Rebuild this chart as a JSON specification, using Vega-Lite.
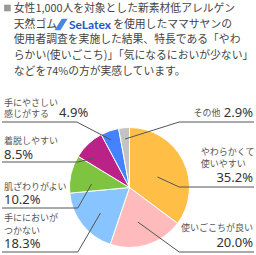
{
  "$schema": "https://vega.github.io/schema/vega-lite/v6.json",
  "width": 256,
  "height": 255,
  "padding": 0,
  "autosize": {"type": "fit", "contains": "padding"},
  "background": "white",
  "config": {"view": {"stroke": null}, "text": {"font": "Noto Sans CJK JP"}},
  "datasets": {
    "pie": [
      {"k": "やわらかくて使いやすい", "v": 35.2, "o": 1},
      {"k": "使いごこちが良い", "v": 20.0, "o": 2},
      {"k": "手ににおいがつかない", "v": 18.3, "o": 3},
      {"k": "肌ざわりがよい", "v": 10.2, "o": 4},
      {"k": "着脱しやすい", "v": 8.5, "o": 5},
      {"k": "手にやさしい感じがする", "v": 4.9, "o": 6},
      {"k": "その他", "v": 2.9, "o": 7}
    ],
    "title": [
      {"t": "女性1,000人を対象とした新素材低アレルゲン", "x": 12, "y": 8.5},
      {"t": "天然ゴム", "x": 12, "y": 24.5},
      {"t": "を使用したママサヤンの", "x": 113, "y": 24.5},
      {"t": "使用者調査を実施した結果、特長である「やわ", "x": 12, "y": 40},
      {"t": "らかい(使いごこち)」「気になるにおいが少ない」", "x": 12, "y": 56},
      {"t": "などを74%の方が実感しています。", "x": 12, "y": 72}
    ],
    "labL": [
      {"t": "手にやさしい", "x": 2, "y": 103},
      {"t": "感じがする", "x": 2, "y": 114},
      {"t": "着脱しやすい", "x": 2, "y": 141},
      {"t": "肌ざわりがよい", "x": 2, "y": 187},
      {"t": "手ににおいが", "x": 2, "y": 218},
      {"t": "つかない", "x": 2, "y": 231},
      {"t": "やわらかくて", "x": 202, "y": 152},
      {"t": "使いやすい", "x": 202, "y": 164}
    ],
    "labR": [
      {"t": "その他", "x": 222, "y": 113},
      {"t": "使いごこちが良い", "x": 255, "y": 228}
    ],
    "pctL": [
      {"t": "4.9%", "x": 58, "y": 113},
      {"t": "8.5%", "x": 2, "y": 155},
      {"t": "10.2%", "x": 2, "y": 200},
      {"t": "18.3%", "x": 2, "y": 244}
    ],
    "pctR": [
      {"t": "2.9%", "x": 255, "y": 113},
      {"t": "35.2%", "x": 255, "y": 178},
      {"t": "20.0%", "x": 255, "y": 243}
    ],
    "lines": [
      {"id": 1, "p": 1, "x": 0, "y": 122}, {"id": 1, "p": 2, "x": 76, "y": 122}, {"id": 1, "p": 3, "x": 111, "y": 140},
      {"id": 2, "p": 1, "x": 0, "y": 162}, {"id": 2, "p": 2, "x": 77, "y": 162}, {"id": 2, "p": 3, "x": 94, "y": 158},
      {"id": 3, "p": 1, "x": 0, "y": 208}, {"id": 3, "p": 2, "x": 77, "y": 208}, {"id": 3, "p": 3, "x": 91, "y": 184},
      {"id": 4, "p": 1, "x": 0, "y": 252}, {"id": 4, "p": 2, "x": 77, "y": 252}, {"id": 4, "p": 3, "x": 100, "y": 213},
      {"id": 5, "p": 1, "x": 256, "y": 122}, {"id": 5, "p": 2, "x": 180, "y": 122}, {"id": 5, "p": 3, "x": 125, "y": 139},
      {"id": 6, "p": 1, "x": 256, "y": 187}, {"id": 6, "p": 2, "x": 180, "y": 187}, {"id": 6, "p": 3, "x": 158, "y": 177},
      {"id": 7, "p": 1, "x": 256, "y": 252}, {"id": 7, "p": 2, "x": 180, "y": 252}, {"id": 7, "p": 3, "x": 138, "y": 222}
    ],
    "logo": [{"t": "SeLatex", "x": 68, "y": 24.5}],
    "marks": [{"x": 5.5, "y": 8}],
    "icon": [{"x": 60, "y": 24.5}]
  },
  "layer": [
    {
      "data": {"name": "pie"},
      "mark": {"type": "arc", "outerRadius": 60, "stroke": "white", "strokeWidth": 1, "x": {"expr": "scale('x', 129.5)"}, "y": {"expr": "scale('y', 187.5)"}},
      "encoding": {
        "theta": {"field": "v", "type": "quantitative", "stack": true},
        "order": {"field": "o", "type": "quantitative"},
        "color": {
          "field": "k", "type": "nominal", "legend": null,
          "scale": {
            "domain": ["やわらかくて使いやすい", "使いごこちが良い", "手ににおいがつかない", "肌ざわりがよい", "着脱しやすい", "手にやさしい感じがする", "その他"],
            "range": ["#FFBF47", "#FFBBBB", "#88C4FF", "#7EC440", "#BB2288", "#4582FF", "#C3C3C3"]
          }
        }
      }
    },
    {
      "data": {"name": "lines"},
      "mark": {"type": "line", "color": "#555555", "strokeWidth": 1},
      "encoding": {
        "x": {"field": "x", "type": "quantitative", "axis": null, "scale": {"domain": [0, 256], "nice": false, "zero": false}},
        "y": {"field": "y", "type": "quantitative", "axis": null, "scale": {"domain": [0, 255], "nice": false, "zero": false, "reverse": true}},
        "detail": {"field": "id", "type": "nominal"},
        "order": {"field": "p", "type": "quantitative"}
      }
    },
    {
      "data": {"name": "title"},
      "mark": {"type": "text", "align": "left", "baseline": "middle", "fontSize": 10.8, "color": "#444444"},
      "encoding": {
        "x": {"field": "x", "type": "quantitative", "axis": null},
        "y": {"field": "y", "type": "quantitative", "axis": null},
        "text": {"field": "t"}
      }
    },
    {
      "data": {"name": "logo"},
      "mark": {"type": "text", "align": "left", "baseline": "middle", "fontSize": 12, "fontWeight": "bold", "font": "Lato", "color": "#2255CC"},
      "encoding": {
        "x": {"field": "x", "type": "quantitative", "axis": null},
        "y": {"field": "y", "type": "quantitative", "axis": null},
        "text": {"field": "t"}
      }
    },
    {
      "data": {"name": "icon"},
      "mark": {"type": "point", "filled": true, "color": "#4A86E0", "size": 170, "opacity": 1, "shape": "M-1,0.9L0.1,-0.9L1,-0.9L-0.1,0.9Z"},
      "encoding": {
        "x": {"field": "x", "type": "quantitative", "axis": null},
        "y": {"field": "y", "type": "quantitative", "axis": null}
      }
    },
    {
      "data": {"name": "marks"},
      "mark": {"type": "square", "filled": true, "color": "#999999", "size": 44, "opacity": 1},
      "encoding": {
        "x": {"field": "x", "type": "quantitative", "axis": null},
        "y": {"field": "y", "type": "quantitative", "axis": null}
      }
    },
    {
      "data": {"name": "labL"},
      "mark": {"type": "text", "align": "left", "baseline": "middle", "fontSize": 9, "color": "#555555"},
      "encoding": {
        "x": {"field": "x", "type": "quantitative", "axis": null},
        "y": {"field": "y", "type": "quantitative", "axis": null},
        "text": {"field": "t"}
      }
    },
    {
      "data": {"name": "labR"},
      "mark": {"type": "text", "align": "right", "baseline": "middle", "fontSize": 9, "color": "#555555"},
      "encoding": {
        "x": {"field": "x", "type": "quantitative", "axis": null},
        "y": {"field": "y", "type": "quantitative", "axis": null},
        "text": {"field": "t"}
      }
    },
    {
      "data": {"name": "pctL"},
      "mark": {"type": "text", "align": "left", "baseline": "middle", "fontSize": 13, "font": "Noto Sans", "color": "#333333"},
      "encoding": {
        "x": {"field": "x", "type": "quantitative", "axis": null},
        "y": {"field": "y", "type": "quantitative", "axis": null},
        "text": {"field": "t"}
      }
    },
    {
      "data": {"name": "pctR"},
      "mark": {"type": "text", "align": "right", "baseline": "middle", "fontSize": 13, "font": "Noto Sans", "color": "#333333"},
      "encoding": {
        "x": {"field": "x", "type": "quantitative", "axis": null},
        "y": {"field": "y", "type": "quantitative", "axis": null},
        "text": {"field": "t"}
      }
    }
  ]
}
